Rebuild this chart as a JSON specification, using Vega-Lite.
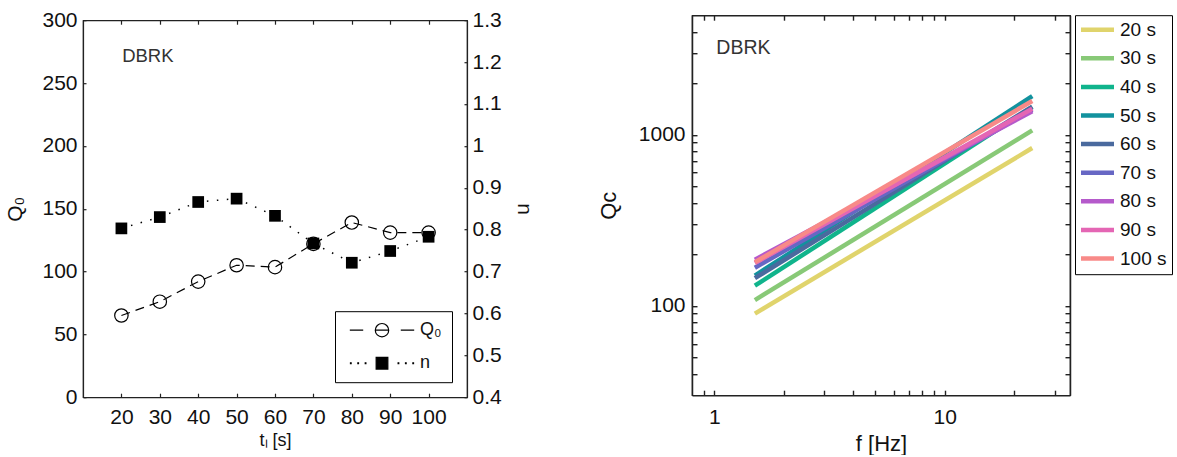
{
  "$schema": "https://vega.github.io/schema/vega-lite/v6.json",
  "padding": {"left": 4, "top": 8, "right": 0, "bottom": 0},
  "datasets": {
    "left": [
      {"t": 20, "Q0": 65, "n": 0.803},
      {"t": 30, "Q0": 76, "n": 0.830},
      {"t": 40, "Q0": 92, "n": 0.866},
      {"t": 50, "Q0": 105, "n": 0.874},
      {"t": 60, "Q0": 103.5, "n": 0.833},
      {"t": 70, "Q0": 122, "n": 0.767},
      {"t": 80, "Q0": 139, "n": 0.721},
      {"t": 90, "Q0": 131, "n": 0.749},
      {"t": 100, "Q0": 131, "n": 0.783}
    ],
    "qc": [
      {"series": "20 s", "f": 1.5, "Qc": 90},
      {"series": "20 s", "f": 24, "Qc": 836},
      {"series": "30 s", "f": 1.5, "Qc": 108},
      {"series": "30 s", "f": 24, "Qc": 1060},
      {"series": "40 s", "f": 1.5, "Qc": 131},
      {"series": "40 s", "f": 24, "Qc": 1450},
      {"series": "50 s", "f": 1.5, "Qc": 150},
      {"series": "50 s", "f": 24, "Qc": 1680},
      {"series": "60 s", "f": 1.5, "Qc": 145},
      {"series": "60 s", "f": 24, "Qc": 1460},
      {"series": "70 s", "f": 1.5, "Qc": 167},
      {"series": "70 s", "f": 24, "Qc": 1400},
      {"series": "80 s", "f": 1.5, "Qc": 186},
      {"series": "80 s", "f": 24, "Qc": 1370},
      {"series": "90 s", "f": 1.5, "Qc": 178},
      {"series": "90 s", "f": 24, "Qc": 1420},
      {"series": "100 s", "f": 1.5, "Qc": 180},
      {"series": "100 s", "f": 24, "Qc": 1575}
    ],
    "lab1": [{"t": 20.2, "Q0": 266.5, "label": "DBRK"}],
    "lab2": [{"f": 1.02, "Qc": 2965, "label": "DBRK"}]
  },
  "hconcat": [
    {
      "width": 384,
      "height": 377,
      "layer": [
        {
          "data": {"name": "left"},
          "mark": {"type": "line", "stroke": "black", "strokeWidth": 1.2, "strokeDash": [9, 6]},
          "encoding": {
            "x": {"field": "t", "type": "quantitative",
              "scale": {"domain": [10, 110], "nice": false, "zero": false},
              "axis": {"orient": "bottom", "values": [20, 30, 40, 50, 60, 70, 80, 90, 100], "title": "tₗ [s]", "titleFontSize": 18, "tickSize": -4, "labelPadding": 13, "titlePadding": 4, "labelFlush": false, "labelOverlap": false}},
            "y": {"field": "Q0", "type": "quantitative",
              "scale": {"domain": [0, 300], "nice": false},
              "axis": {"orient": "left", "values": [0, 50, 100, 150, 200, 250, 300], "title": "Q₀", "titleFontSize": 21, "tickSize": -3, "labelPadding": 9, "titlePadding": 16}}
          }
        },
        {
          "data": {"name": "left"},
          "mark": {"type": "point", "shape": "circle", "filled": false, "stroke": "black", "strokeWidth": 1.2, "size": 180, "opacity": 1},
          "encoding": {
            "x": {"field": "t", "type": "quantitative", "axis": null},
            "y": {"field": "Q0", "type": "quantitative", "scale": {"domain": [0, 300], "nice": false}, "axis": null}
          }
        },
        {
          "data": {"name": "left"},
          "mark": {"type": "line", "stroke": "black", "strokeWidth": 1.5, "strokeDash": [1.5, 8.5]},
          "encoding": {
            "x": {"field": "t", "type": "quantitative",
              "axis": {"orient": "top", "values": [20, 30, 40, 50, 60, 70, 80, 90, 100], "labels": false, "title": null, "tickSize": -4}},
            "y": {"field": "n", "type": "quantitative",
              "scale": {"domain": [0.4, 1.3], "nice": false, "zero": false},
              "axis": {"orient": "right", "values": [0.4, 0.5, 0.6, 0.7, 0.8, 0.9, 1, 1.1, 1.2, 1.3], "format": "~g", "title": "n", "titleFontSize": 21, "tickSize": -3, "labelPadding": 8, "titlePadding": 12}}
          }
        },
        {
          "data": {"name": "left"},
          "mark": {"type": "square", "color": "black", "size": 137, "opacity": 1},
          "encoding": {
            "x": {"field": "t", "type": "quantitative", "axis": null},
            "y": {"field": "n", "type": "quantitative", "scale": {"domain": [0.4, 1.3], "nice": false, "zero": false}, "axis": null}
          }
        },
        {
          "data": {"name": "lab1"},
          "mark": {"type": "text", "align": "left", "baseline": "alphabetic", "fontSize": 18.5, "color": "#333"},
          "encoding": {
            "x": {"field": "t", "type": "quantitative", "axis": null},
            "y": {"field": "Q0", "type": "quantitative", "scale": {"domain": [0, 300], "nice": false}, "axis": null},
            "text": {"field": "label"}
          }
        },
        {
          "data": {"values": []},
          "mark": {"type": "point", "stroke": "black", "strokeWidth": 1.2, "opacity": 1},
          "encoding": {
            "shape": {"field": "s", "type": "nominal",
              "scale": {"domain": ["Q₀", "n"], "range": ["M-4.8,0H-2.8M2.8,0H4.8M-1,0H1M-1,0A1,1,0,1,1,1,0A1,1,0,1,1,-1,0Z", "M-0.87,-0.87H0.87V0.87H-0.87ZM-4.7,-0.05h0.1v0.1h-0.1ZM-3.6,-0.05h0.1v0.1h-0.1ZM-2.5,-0.05h0.1v0.1h-0.1ZM2.4,-0.05h0.1v0.1h-0.1ZM3.5,-0.05h0.1v0.1h-0.1ZM4.6,-0.05h0.1v0.1h-0.1Z"]},
              "legend": {"title": null, "orient": "bottom-right", "offset": 15, "strokeColor": "black", "fillColor": "white", "padding": 10, "symbolSize": 180, "symbolStrokeWidth": 1.2, "symbolOffset": 28, "labelOffset": 29, "labelFontSize": 18, "rowPadding": 14, "symbolOpacity": 1}},
            "fill": {"field": "s", "type": "nominal",
              "scale": {"domain": ["Q₀", "n"], "range": ["transparent", "black"]},
              "legend": {"title": null, "orient": "bottom-right", "offset": 15, "strokeColor": "black", "fillColor": "white", "padding": 10, "symbolSize": 180, "symbolStrokeWidth": 1.2, "symbolOffset": 28, "labelOffset": 29, "labelFontSize": 18, "rowPadding": 14, "symbolOpacity": 1}}
          }
        }
      ],
      "resolve": {"scale": {"y": "independent"}, "axis": {"x": "independent", "y": "independent"}}
    },
    {
      "width": 378,
      "height": 380,
      "layer": [
        {
          "data": {"name": "qc"},
          "mark": {"type": "line", "strokeWidth": 4.5, "strokeCap": "butt"},
          "encoding": {
            "x": {"field": "f", "type": "quantitative",
              "scale": {"type": "log", "domain": [0.8, 35], "nice": false},
              "axis": {"orient": "bottom", "values": [0.9, 1, 2, 3, 4, 5, 6, 7, 8, 9, 10, 20, 30], "labelExpr": "datum.value == 1 || datum.value == 10 ? format(datum.value, 'd') : ''",
                "labelFontSize": {"condition": {"test": "datum.value == 1 || datum.value == 10", "value": 21}, "value": 0},
                "title": "f [Hz]", "titleFontSize": 22, "tickSize": -5, "labelPadding": 16, "titlePadding": 6, "labelFlush": false, "labelOverlap": false, "domainWidth": 1.5, "tickWidth": 1.4,
                "encode": {"ticks": {"update": {"y2": {"signal": "datum.value == 1 || datum.value == 10 ? -9 : -5"}}}}}},
            "y": {"field": "Qc", "type": "quantitative",
              "scale": {"type": "log", "domain": [30, 5000], "nice": false},
              "axis": {"orient": "left", "values": [40, 50, 60, 70, 80, 90, 100, 200, 300, 400, 500, 600, 700, 800, 900, 1000, 2000, 3000, 4000], "labelExpr": "datum.value == 100 || datum.value == 1000 ? format(datum.value, 'd') : ''",
                "labelFontSize": {"condition": {"test": "datum.value == 100 || datum.value == 1000", "value": 21}, "value": 0},
                "title": "Qᴄ", "titleFontSize": 22, "tickSize": -5, "labelPadding": 12, "titlePadding": 18, "labelOverlap": false, "domainWidth": 1.5, "tickWidth": 1.4,
                "encode": {"ticks": {"update": {"x2": {"signal": "datum.value == 100 || datum.value == 1000 ? 9 : 5"}}}}}},
            "color": {"field": "series", "type": "nominal",
              "scale": {"domain": ["20 s", "30 s", "40 s", "50 s", "60 s", "70 s", "80 s", "90 s", "100 s"],
                "range": ["#E0D46C", "#88C977", "#10B48C", "#12929E", "#4A6A9E", "#6767C4", "#B55ACB", "#E466B4", "#F88A88"]},
              "legend": {"title": null, "orient": "right", "offset": 4, "strokeColor": "black", "fillColor": "white", "padding": 5, "symbolType": "M-3.3,0H3.3", "symbolSize": 100, "symbolStrokeWidth": 4.5, "symbolOffset": 8, "labelOffset": 13, "labelFontSize": 19, "rowPadding": 8.6, "symbolOpacity": 1}}
          }
        },
        {
          "data": {"name": "qc"},
          "mark": {"type": "line", "opacity": 0},
          "encoding": {
            "x": {"field": "f", "type": "quantitative",
              "axis": {"orient": "top", "values": [0.9, 1, 2, 3, 4, 5, 6, 7, 8, 9, 10, 20, 30], "labels": false, "title": null, "tickSize": -5, "domainWidth": 1.5, "tickWidth": 1.4,
                "encode": {"ticks": {"update": {"y2": {"signal": "datum.value == 1 || datum.value == 10 ? 9 : 5"}}}}}},
            "y": {"field": "Qc", "type": "quantitative",
              "axis": {"orient": "right", "values": [40, 50, 60, 70, 80, 90, 100, 200, 300, 400, 500, 600, 700, 800, 900, 1000, 2000, 3000, 4000], "labels": false, "title": null, "tickSize": -5, "domainWidth": 1.5, "tickWidth": 1.4,
                "encode": {"ticks": {"update": {"x2": {"signal": "datum.value == 100 || datum.value == 1000 ? -9 : -5"}}}}}},
            "detail": {"field": "series"}
          }
        },
        {
          "data": {"name": "lab2"},
          "mark": {"type": "text", "align": "left", "baseline": "alphabetic", "fontSize": 19.5, "color": "#333"},
          "encoding": {
            "x": {"field": "f", "type": "quantitative", "axis": null},
            "y": {"field": "Qc", "type": "quantitative", "axis": null},
            "text": {"field": "label"}
          }
        }
      ],
      "resolve": {"axis": {"x": "independent", "y": "independent"}}
    }
  ],
  "spacing": 61,
  "center": true,
  "resolve": {"legend": {"shape": "independent", "fill": "independent", "color": "independent"}},
  "config": {
    "font": "Liberation Sans",
    "view": {"stroke": "#222", "strokeWidth": 1.2},
    "axis": {"grid": false, "domainColor": "#222", "tickColor": "#222", "labelColor": "#111", "titleColor": "#111", "labelFontSize": 21, "titleFontWeight": "normal", "domainWidth": 1.2, "tickWidth": 1.2},
    "legend": {"labelColor": "#111", "labelFont": "Liberation Sans"}
  }
}
